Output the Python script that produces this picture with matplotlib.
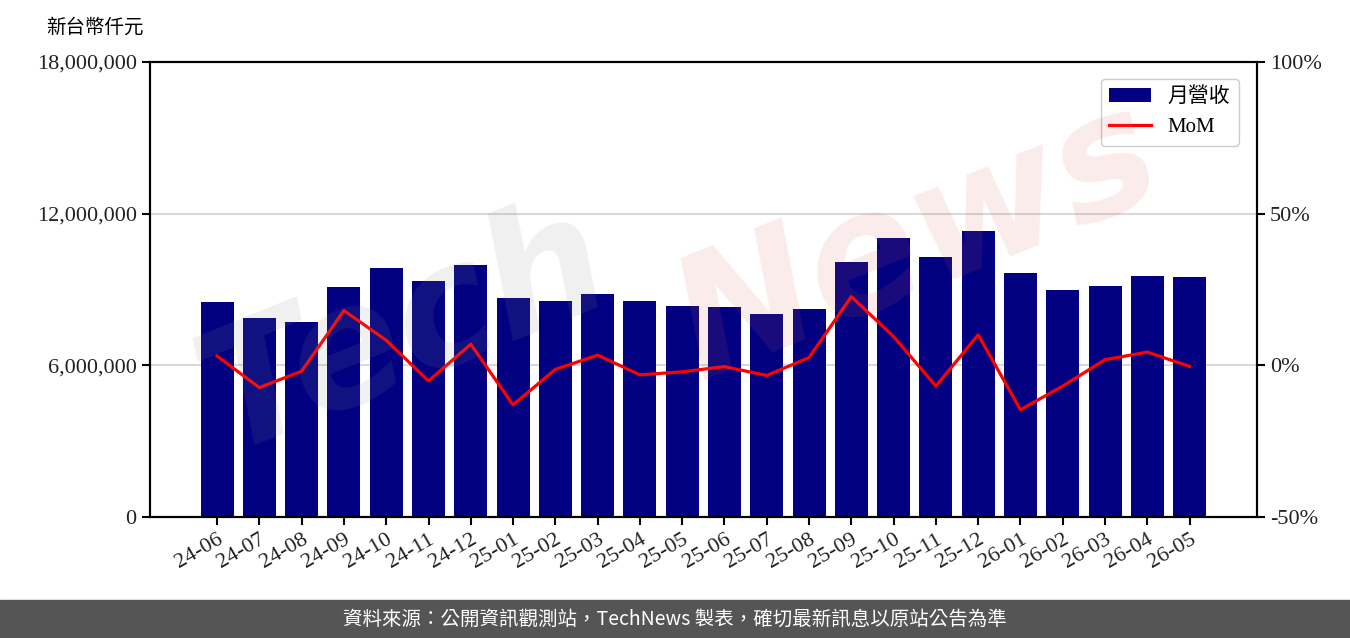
import matplotlib
matplotlib.use("Agg")
import matplotlib.pyplot as plt
import matplotlib.ticker as mticker
import numpy as np

# data
months = ["24-06", "24-07", "24-08", "24-09", "24-10", "24-11", "24-12",
          "25-01", "25-02", "25-03", "25-04", "25-05", "25-06", "25-07",
          "25-08", "25-09", "25-10", "25-11", "25-12", "26-01", "26-02",
          "26-03", "26-04", "26-05"]
revenue = [8500000, 7870000, 7710000, 9100000, 9850000, 9340000, 9970000,
           8660000, 8540000, 8820000, 8540000, 8350000, 8310000, 8030000,
           8230000, 10090000, 11040000, 10280000, 11310000, 9650000, 8980000,
           9140000, 9530000, 9490000]
mom = [3.0, -7.4, -2.0, 18.0, 8.2, -5.2, 6.9, -13.1, -1.4, 3.3, -3.2, -2.2,
       -0.5, -3.4, 2.5, 22.6, 9.4, -6.9, 10.0, -14.7, -6.9, 1.8, 4.3, -0.4]

serif = ["Liberation Serif", "Noto Sans CJK TC"]
plt.rcParams["font.family"] = serif
plt.rcParams["axes.unicode_minus"] = False

fig = plt.figure(figsize=(13.5, 6.38), dpi=100)
ax = fig.add_axes([0.111, 0.190, 0.820, 0.713])
ax2 = ax.twinx()

x = np.arange(len(months))
ax.bar(x, revenue, width=0.78, color="#000080", label="月營收", zorder=2)
ax2.plot(x, mom, color="red", linewidth=2.3, label="MoM", zorder=3)

ax.set_xlim(-1.59, len(months) - 1 + 1.59)
ax.set_ylim(0, 18000000)
ax.set_yticks([0, 6000000, 12000000, 18000000])
ax.yaxis.set_major_formatter(mticker.FuncFormatter(lambda v, p: f"{int(v):,}"))
ax.yaxis.grid(True, color="#d9d9d9", linewidth=1.5, zorder=0)
ax.set_axisbelow(True)
ax.set_xticks(x)
ax.set_xticklabels(months, rotation=30, ha="right", rotation_mode="anchor")
ax.tick_params(axis="y", labelsize=16, length=6, width=1.5, labelcolor="#222222")
ax.tick_params(axis="x", labelsize=16, length=6, width=1.5, labelcolor="#222222")

ax2.set_ylim(-50, 100)
ax2.set_yticks([-50, 0, 50, 100])
ax2.yaxis.set_major_formatter(mticker.FuncFormatter(lambda v, p: f"{int(v)}%"))
ax2.tick_params(axis="y", labelsize=16, length=6, width=1.5, labelcolor="#222222")

for a in (ax, ax2):
    for s in a.spines.values():
        s.set_linewidth(1.5)

fig.text(0.070, 0.957, "新台幣仟元", fontsize=14, ha="center", va="center",
         family=["Noto Sans CJK TC"])

h1, l1 = ax.get_legend_handles_labels()
h2, l2 = ax2.get_legend_handles_labels()
leg = ax2.legend(h1 + h2, l1 + l2, loc="upper right", fontsize=15,
                 bbox_to_anchor=(0.993, 0.985), handlelength=2.0,
                 framealpha=1, edgecolor="#cccccc")

# watermark
fig.text(0.30, 0.48, "Tech", fontsize=120, color="#888888", alpha=0.13,
         rotation=22, ha="center", va="center", style="italic",
         family=["DejaVu Sans"], fontweight="bold", zorder=10)
fig.text(0.68, 0.62, "News", fontsize=120, color="#e06060", alpha=0.12,
         rotation=22, ha="center", va="center", style="italic",
         family=["DejaVu Sans"], fontweight="bold", zorder=10)

# footer band
fig.patches.append(plt.Rectangle((0, 0), 1, 0.0596, transform=fig.transFigure,
                                 color="#555555", zorder=0))
fig.text(0.5, 0.030, "資料來源：公開資訊觀測站，TechNews 製表，確切最新訊息以原站公告為準",
         color="white", fontsize=14, ha="center", va="center",
         family=["Noto Sans CJK TC"])

fig.savefig("out.png", dpi=100, facecolor="white")
